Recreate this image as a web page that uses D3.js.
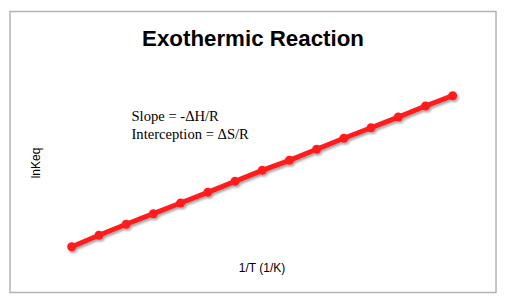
<!DOCTYPE html>
<html><head><meta charset="utf-8">
<script src="https://cdn.jsdelivr.net/npm/d3@7"></script>
<style>html,body{margin:0;padding:0;background:#fff;}svg{display:block;}</style>
</head><body>
<script>
const invT = [1,2,3,4,5,6,7,8,9,10,11,12,13,14,15];
const lnKeq = [1.0,2.06,3.08,4.06,5.05,6.04,7.06,8.08,9.01,10.03,11.05,12.03,13.02,14.04,15.0];
const title = "Exothermic Reaction";
const xLabel = "1/T (1/K)";
const yLabel = "lnKeq";
const notes = ["Slope = -\u0394H/R", "Interception = \u0394S/R"];

const W = 506, H = 303;
const svg = d3.select("body").append("svg").attr("width", W).attr("height", H);
const defs = svg.append("defs");
const f = defs.append("filter").attr("id","sh").attr("x","-20%").attr("y","-20%").attr("width","140%").attr("height","160%");
f.append("feDropShadow").attr("dx",1.5).attr("dy",2).attr("stdDeviation",1.2).attr("flood-color","#000").attr("flood-opacity",0.35);

svg.append("rect").attr("x",10).attr("y",11.5).attr("width",486).attr("height",281)
  .attr("fill","#fff").attr("stroke","#b3b3b3").attr("stroke-width",1.5);

const x = d3.scaleLinear().domain([1,15]).range([71.7,452.7]);
const y = d3.scaleLinear().domain([1,15]).range([246.7,95.7]);

svg.append("text").attr("x",253).attr("y",46).attr("text-anchor","middle")
  .attr("font-family","Liberation Sans, Arial, sans-serif").attr("font-weight","bold")
  .attr("font-size",22.3).text(title);

const g = svg.append("g").attr("filter","url(#sh)");
const data = invT.map((d,i)=>[d,lnKeq[i]]);
g.append("path").datum(data)
  .attr("d", d3.line().x(d=>x(d[0])).y(d=>y(d[1])))
  .attr("fill","none").attr("stroke","#ff1f1f").attr("stroke-width",5).attr("stroke-linecap","round");
g.selectAll("circle").data(data).join("circle")
  .attr("cx",d=>x(d[0])).attr("cy",d=>y(d[1])).attr("r",4.5).attr("fill","#ff1f1f");

notes.forEach((t,i)=>{
  svg.append("text").attr("x",131.5).attr("y",120.5+i*18)
    .attr("font-family","Liberation Serif, Times New Roman, serif").attr("font-size",14.6)
    .attr("fill","#000").text(t);
});

svg.append("text").attr("x",262).attr("y",271.5).attr("text-anchor","middle")
  .attr("font-family","Liberation Sans, Arial, sans-serif").attr("font-size",12).text(xLabel);
svg.append("text").attr("transform","translate(40,163) rotate(-90)").attr("text-anchor","middle")
  .attr("font-family","Liberation Sans, Arial, sans-serif").attr("font-size",12).text(yLabel);
</script>
</body></html>
